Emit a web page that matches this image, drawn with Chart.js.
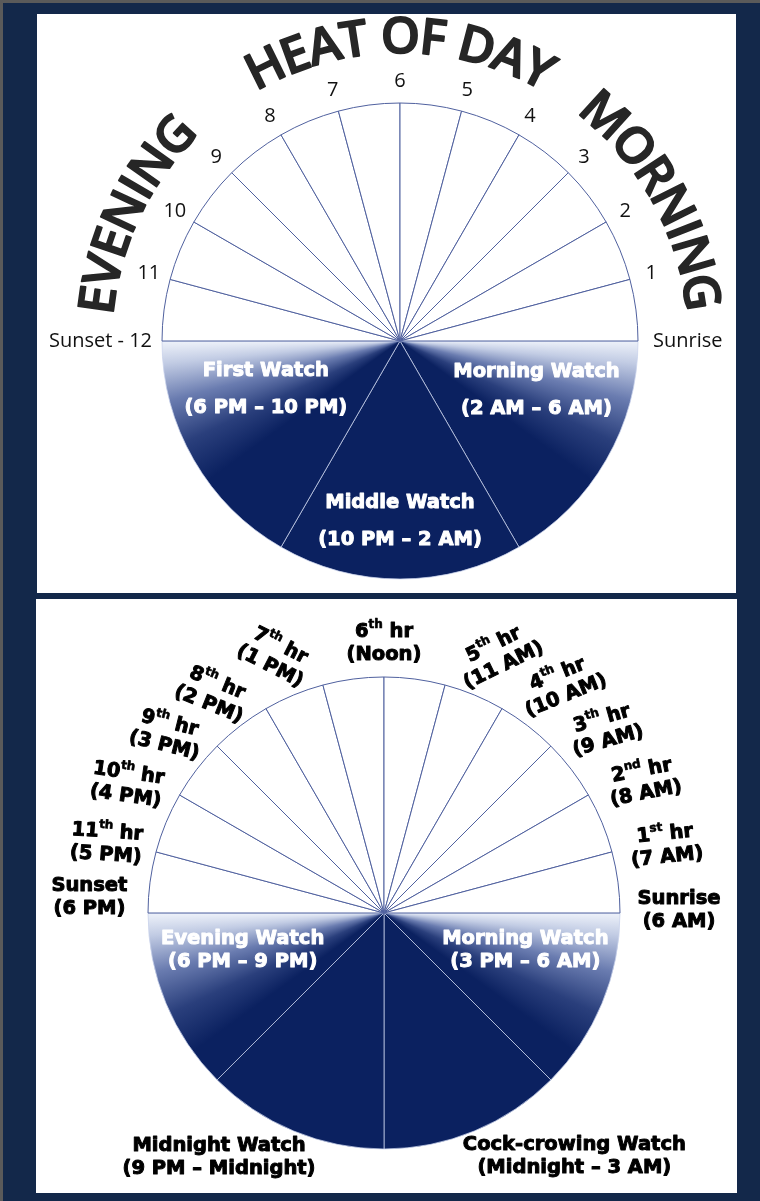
<!DOCTYPE html>
<html>
<head>
<meta charset="utf-8">
<script src="https://cdn.jsdelivr.net/npm/chart.js@4.4.0/dist/chart.umd.min.js"></script>
<style>
    html, body { margin: 0; padding: 0; }
    body { width: 760px; height: 1201px; background: #13284a; position: relative; overflow: hidden; }
    .edge-top { position: absolute; left: 0; top: 0; width: 760px; height: 3px; background: #5a5a5a; }
    .edge-left { position: absolute; left: 0; top: 0; width: 3px; height: 1201px; background: #5a5a5a; }
    .panel { position: absolute; background: #fff; }
    #p1 { left: 37px; top: 14px; width: 699px; height: 579px; }
    #p2 { left: 36px; top: 599px; width: 701px; height: 594px; }
    canvas { display: block; }
</style>
</head>
<body>
<div class="edge-top"></div>
<div class="edge-left"></div>
<div class="panel" id="p1"><canvas id="dialTop" width="699" height="579"></canvas></div>
<div class="panel" id="p2"><canvas id="dialBottom" width="701" height="594"></canvas></div>
<script>
// ---- data: top dial (three watches, twelve hours of day) ----
var topWatches = ['Morning Watch', 'Middle Watch', 'First Watch'];
var topWatchTimes = ['(2 AM \u2013 6 AM)', '(10 PM \u2013 2 AM)', '(6 PM \u2013 10 PM)'];
var topWatchHours = [4, 4, 4];
var topDayHours = [1, 1, 1, 1, 1, 1, 1, 1, 1, 1, 1, 1];
var topTicks = ['Sunset - 12', '11', '10', '9', '8', '7', '6', '5', '4', '3', '2', '1', 'Sunrise'];
var topTitles = ['EVENING', 'HEAT OF DAY', 'MORNING'];

// ---- data: bottom dial (four watches, twelve hours of day) ----
var botWatches = ['Morning Watch', 'Cock-crowing Watch', 'Midnight Watch', 'Evening Watch'];
var botWatchTimes = ['(3 PM \u2013 6 AM)', '(Midnight \u2013 3 AM)', '(9 PM \u2013 Midnight)', '(6 PM \u2013 9 PM)'];
var botWatchHours = [3, 3, 3, 3];
var botDayHours = [1, 1, 1, 1, 1, 1, 1, 1, 1, 1, 1, 1];
var botTicks = ['Sunset', '11th hr', '10th hr', '9th hr', '8th hr', '7th hr', '6th hr',
    '5th hr', '4th hr', '3th hr', '2nd hr', '1st hr', 'Sunrise'];
var botTickTimes = ['(6 PM)', '(5 PM)', '(4 PM)', '(3 PM)', '(2 PM)', '(1 PM)', '(Noon)',
    '(11 AM)', '(10 AM)', '(9 AM)', '(8 AM)', '(7 AM)', '(6 AM)'];

// ---- layout (not data) ----
var NAVY = '#0b2160';
var topTitleAt = [154.5, 90, 29];        // centre angle of each curved word, degrees ccw from east
var topWatchPos = [[-10, 0.61], [0, 0.76], [10, 0.60]];   // [angle nudge deg, radius fraction]
var botWatchPos = [[-7.5, 0.62], [-15.5, 1.31], [11.5, 1.25], [7.5, 0.62]];
var botWatchInside = [true, false, false, true];
var botTickNudge = [-3, 1, 3.5, 5.6, 8, 8, 0, -9, -8, -5.4, -3.3, -1.6, 0.5];
var botTickGap = [59, 50, 51, 45, 42, 43, 34, 46, 53, 51, 55, 54, 59];
var botTickTurn = [0, 4, 8, 14, 22, 27, 0, -26, -22, -16, -11, -6, 0];

var BOLD = '"DejaVu Sans", sans-serif';

function nightFill(chart) {
    var a = chart.chartArea;
    if (!a || !chart.ctx.createConicGradient) return NAVY;
    var cx = (a.left + a.right) / 2, cy = (a.top + a.bottom) / 2;
    var g = chart.ctx.createConicGradient(0, cx, cy);
    g.addColorStop(0, '#eef2fa');
    g.addColorStop(0.015, '#c2cce4');
    g.addColorStop(0.04, '#6a7cb0');
    g.addColorStop(0.07, '#2a3f7c');
    g.addColorStop(0.1, NAVY);
    g.addColorStop(0.4, NAVY);
    g.addColorStop(0.43, '#2a3f7c');
    g.addColorStop(0.46, '#6a7cb0');
    g.addColorStop(0.485, '#c2cce4');
    g.addColorStop(0.5, '#eef2fa');
    g.addColorStop(0.5001, NAVY);
    g.addColorStop(1, NAVY);
    return g;
}

function dialDataset(watchHours, dayHours) {
    var n = watchHours.length;
    return {
        data: watchHours.concat(dayHours),
        backgroundColor: function (c) { return c.dataIndex < n ? nightFill(c.chart) : '#ffffff'; },
        borderColor: function (c) { return c.dataIndex < n ? 'rgba(200,210,235,0.75)' : '#4f609e'; },
        borderWidth: 1
    };
}

// fill and a thin stroke so the bold face looks heavier
function heavyText(ctx, t, x, y, w) {
    ctx.lineWidth = w;
    ctx.lineJoin = 'round';
    ctx.strokeStyle = ctx.fillStyle;
    ctx.strokeText(t, x, y);
    ctx.fillText(t, x, y);
}

// superscript ordinals like 7th, 2nd
function richParts(text) {
    var m = text.match(/^(\d+)(st|nd|rd|th)(.*)$/);
    if (!m) return [[text, false]];
    return [[m[1], false], [m[2], true], [m[3], false]];
}

function drawRich(ctx, text, x, y, size) {
    var parts = richParts(text);
    var big = 'bold ' + size + 'px ' + BOLD, small = 'bold ' + Math.round(size * 0.62) + 'px ' + BOLD;
    var total = 0;
    parts.forEach(function (p) { ctx.font = p[1] ? small : big; total += ctx.measureText(p[0]).width; });
    var cx = x - total / 2;
    ctx.textAlign = 'left';
    parts.forEach(function (p) {
        ctx.font = p[1] ? small : big;
        heavyText(ctx, p[0], cx, p[1] ? y - size * 0.36 : y, p[1] ? 0.6 : 1);
        cx += ctx.measureText(p[0]).width;
    });
}

function arcText(ctx, text, cx, cy, r, midDeg) {
    var full = ctx.measureText(text).width;
    var rm = r + 18;
    var span = full / rm;
    var start = midDeg * Math.PI / 180 + span / 2;
    ctx.textAlign = 'center';
    ctx.textBaseline = 'alphabetic';
    for (var i = 0; i < text.length; i++) {
        var pre = ctx.measureText(text.slice(0, i)).width;
        var w = ctx.measureText(text[i]).width;
        var a = start - (pre + w / 2) / rm;
        ctx.save();
        ctx.translate(cx + r * Math.cos(a), cy - r * Math.sin(a));
        ctx.rotate(Math.PI / 2 - a);
        heavyText(ctx, text[i], 0, 0, 1.6);
        ctx.restore();
    }
}

var topLabels = {
    id: 'topLabels',
    afterDraw: function (chart) {
        var ctx = chart.ctx, arcs = chart.getDatasetMeta(0).data;
        var n = topWatches.length;
        var cx = arcs[0].x, cy = arcs[0].y, R = arcs[0].outerRadius;
        ctx.save();

        // curved headings
        ctx.fillStyle = '#262626';
        ctx.font = '600 50px "Open Sans", sans-serif';
        topTitles.forEach(function (t, i) { arcText(ctx, t, cx, cy, R + 50, topTitleAt[i]); });

        // hour marks at the slice edges
        ctx.fillStyle = '#111';
        ctx.font = '20px "Open Sans", sans-serif';
        ctx.textBaseline = 'middle';
        topTicks.forEach(function (t, i) {
            var a = i < topDayHours.length ? arcs[n + i].startAngle : arcs[arcs.length - 1].endAngle;
            if (i === 0) {
                ctx.textAlign = 'right';
                ctx.fillText(t, cx - R - 10, cy);
            } else if (i === topTicks.length - 1) {
                ctx.textAlign = 'left';
                ctx.fillText(t, cx + R + 15, cy);
            } else {
                ctx.textAlign = 'center';
                ctx.fillText(t, cx + (R + 22) * Math.cos(a), cy + (R + 22) * Math.sin(a));
            }
        });

        // watch names
        ctx.fillStyle = '#fff';
        ctx.textAlign = 'center';
        topWatches.forEach(function (w, i) {
            var arc = arcs[i];
            var a = (arc.startAngle + arc.endAngle) / 2 + topWatchPos[i][0] * Math.PI / 180;
            var r = R * topWatchPos[i][1];
            var x = cx + r * Math.cos(a), y = cy + r * Math.sin(a);
            ctx.font = 'bold 19.5px ' + BOLD;
            heavyText(ctx, w, x, y - 18.5, 1);
            heavyText(ctx, topWatchTimes[i], x, y + 18.5, 1);
        });
        ctx.restore();
    }
};

var botLabels = {
    id: 'botLabels',
    afterDraw: function (chart) {
        var ctx = chart.ctx, arcs = chart.getDatasetMeta(0).data;
        var n = botWatches.length;
        var cx = arcs[0].x, cy = arcs[0].y, R = arcs[0].outerRadius;
        ctx.save();
        ctx.textBaseline = 'middle';

        // hour marks, two lines each
        ctx.fillStyle = '#000';
        botTicks.forEach(function (t, i) {
            var a = i < botDayHours.length ? arcs[n + i].startAngle : arcs[arcs.length - 1].endAngle;
            a -= botTickNudge[i] * Math.PI / 180;
            var r = R + botTickGap[i];
            ctx.save();
            ctx.translate(cx + r * Math.cos(a), cy + r * Math.sin(a));
            ctx.rotate(botTickTurn[i] * Math.PI / 180);
            drawRich(ctx, t, 0, -11.5, 19.5);
            drawRich(ctx, botTickTimes[i], 0, 11.5, 19.5);
            ctx.restore();
        });

        // watch names
        botWatches.forEach(function (w, i) {
            var arc = arcs[i];
            var a = (arc.startAngle + arc.endAngle) / 2 + botWatchPos[i][0] * Math.PI / 180;
            var r = R * botWatchPos[i][1];
            var x = cx + r * Math.cos(a), y = cy + r * Math.sin(a);
            ctx.fillStyle = botWatchInside[i] ? '#fff' : '#000';
            ctx.textAlign = 'center';
            ctx.font = 'bold 19.5px ' + BOLD;
            heavyText(ctx, w, x, y - 11.5, 1);
            heavyText(ctx, botWatchTimes[i], x, y + 11.5, 1);
        });
        ctx.restore();
    }
};

function dialOptions(radius, pad) {
    return {
        responsive: false,
        animation: false,
        events: [],
        rotation: 90,
        radius: radius,
        layout: { padding: pad },
        plugins: { legend: { display: false }, tooltip: { enabled: false } }
    };
}

new Chart(document.getElementById('dialTop'), {
    type: 'pie',
    data: {
        labels: topWatches.concat(topTicks.slice(0, 12)),
        datasets: [dialDataset(topWatchHours, topDayHours)]
    },
    options: dialOptions(238, { left: 125, top: 89, right: 98, bottom: 14 }),
    plugins: [topLabels]
});

new Chart(document.getElementById('dialBottom'), {
    type: 'pie',
    data: {
        labels: botWatches.concat(botTicks.slice(0, 12)),
        datasets: [dialDataset(botWatchHours, botDayHours)]
    },
    options: dialOptions(236, { left: 112, top: 78, right: 117, bottom: 44 }),
    plugins: [botLabels]
});
</script>
</body>
</html>
